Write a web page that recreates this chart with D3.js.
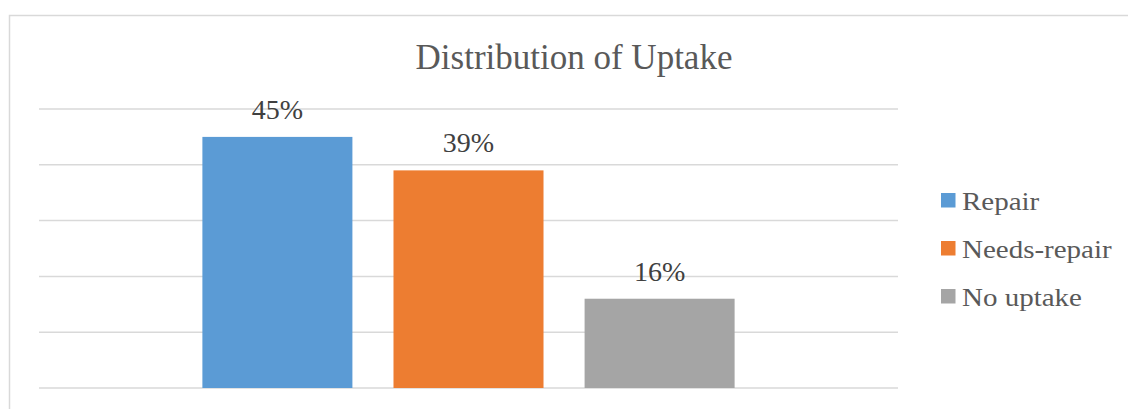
<!DOCTYPE html>
<html>
<head>
<meta charset="utf-8">
<script src="https://cdn.jsdelivr.net/npm/d3@7"></script>
<style>
  body { margin: 0; background: #fff; }
  text { font-family: "Liberation Serif", "Times New Roman", serif; }
</style>
</head>
<body>
<svg id="chart" width="1128" height="409"></svg>
<script>
// data
const categories = ['Uptake'];
const seriesNames = ['Repair', 'Needs-repair', 'No uptake'];
const seriesValues = [0.45, 0.39, 0.16];
const seriesColors = ['#5b9bd5', '#ed7d31', '#a5a5a5'];
const yTicks = [0, 0.1, 0.2, 0.3, 0.4, 0.5];
const chartTitle = 'Distribution of Uptake';

const svg = d3.select('#chart');

// chart border (right and bottom run off the picture)
svg.append('rect')
    .attr('x', 9.5).attr('y', 15.5)
    .attr('width', 1140).attr('height', 420)
    .attr('fill', 'none')
    .attr('stroke', '#d9d9d9')
    .attr('stroke-width', 1.5);

const plot = { left: 39, right: 898, top: 109, bottom: 388 };

const y = d3.scaleLinear().domain([0, 0.5]).range([plot.bottom, plot.top]);
const x0 = d3.scaleBand().domain(categories).range([plot.left, plot.right])
    .paddingInner(0).paddingOuter(0.307);
const x1 = d3.scaleBand().domain(seriesNames).range([0, x0.bandwidth()])
    .paddingInner(0.215).paddingOuter(0);

// gridlines
svg.append('g')
    .selectAll('line')
    .data(yTicks)
    .enter().append('line')
    .attr('x1', plot.left).attr('x2', plot.right)
    .attr('y1', d => y(d)).attr('y2', d => y(d))
    .attr('stroke', '#d9d9d9')
    .attr('stroke-width', 1.5);

// bars
const group = svg.append('g')
    .attr('transform', `translate(${x0(categories[0])},0)`);

group.selectAll('rect')
    .data(seriesNames)
    .enter().append('rect')
    .attr('x', d => x1(d))
    .attr('y', (d, i) => y(seriesValues[i]))
    .attr('width', x1.bandwidth())
    .attr('height', (d, i) => y(0) - y(seriesValues[i]))
    .attr('fill', (d, i) => seriesColors[i]);

// data labels
group.selectAll('text')
    .data(seriesNames)
    .enter().append('text')
    .attr('x', d => x1(d) + x1.bandwidth() / 2)
    .attr('y', (d, i) => y(seriesValues[i]) - 18)
    .attr('text-anchor', 'middle')
    .attr('font-size', 28)
    .attr('fill', '#404040')
    .text((d, i) => d3.format('.0%')(seriesValues[i]));

// title
svg.append('text')
    .attr('x', 574).attr('y', 69)
    .attr('text-anchor', 'middle')
    .attr('font-size', 35)
    .attr('fill', '#595959')
    .text(chartTitle);

// legend
const legend = svg.append('g').attr('transform', 'translate(941,193)');
const rows = legend.selectAll('g')
    .data(seriesNames)
    .enter().append('g')
    .attr('transform', (d, i) => `translate(0,${i * 48})`);

rows.append('rect')
    .attr('width', 14.5).attr('height', 14.5)
    .attr('fill', (d, i) => seriesColors[i]);

rows.append('text')
    .attr('transform', 'translate(21,17) scale(1.16,1)')
    .attr('font-size', 25)
    .attr('fill', '#595959')
    .text(d => d);
</script>
</body>
</html>
